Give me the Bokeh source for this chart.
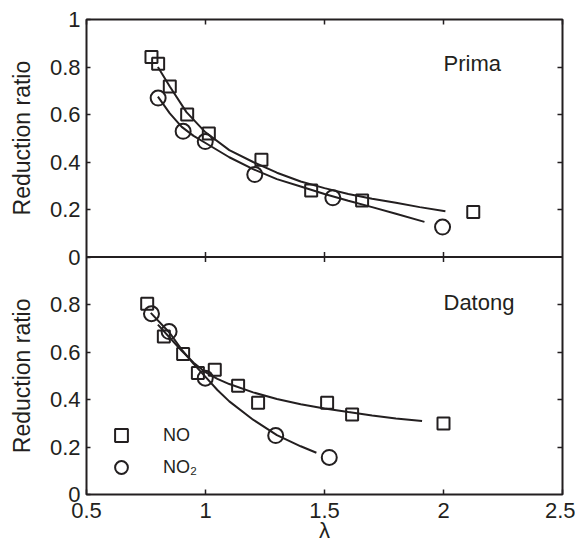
from bokeh.plotting import figure
from bokeh.models import Range1d, LinearAxis, FixedTicker, Legend, LegendItem, Label, Span
from bokeh.embed import file_html
from bokeh.resources import INLINE

INK = "#231f20"
FONT = "Liberation Sans"

# ---------------- data ----------------
# Prima (upper panel)
prima_no_lam = [0.773, 0.801, 0.85, 0.923, 1.014, 1.235, 1.444, 1.658, 2.125]
prima_no_ratio = [0.842, 0.814, 0.718, 0.60, 0.52, 0.41, 0.28, 0.238, 0.189]
prima_no2_lam = [0.801, 0.906, 0.999, 1.207, 1.535, 1.996]
prima_no2_ratio = [0.669, 0.529, 0.486, 0.347, 0.249, 0.126]
prima_no_fit_lam = [0.80, 0.85, 0.92, 1.0, 1.1, 1.2, 1.3, 1.4, 1.5, 1.6, 1.7, 1.8, 1.9, 2.008]
prima_no_fit_ratio = [0.80, 0.718, 0.61, 0.525, 0.45, 0.40, 0.355, 0.318, 0.29, 0.265, 0.245, 0.228, 0.21, 0.193]
prima_no2_fit_lam = [0.80, 0.85, 0.90, 0.95, 1.0, 1.1, 1.2, 1.3, 1.4, 1.5, 1.6, 1.7, 1.8, 1.92]
prima_no2_fit_ratio = [0.675, 0.605, 0.548, 0.51, 0.48, 0.42, 0.37, 0.328, 0.297, 0.265, 0.237, 0.21, 0.182, 0.148]

# Datong (lower panel)
datong_no_lam = [0.755, 0.825, 0.906, 0.968, 1.039, 1.137, 1.221, 1.511, 1.616, 2.0]
datong_no_ratio = [0.803, 0.665, 0.592, 0.512, 0.525, 0.458, 0.386, 0.386, 0.337, 0.299]
datong_no2_lam = [0.773, 0.847, 0.999, 1.295, 1.52]
datong_no2_ratio = [0.761, 0.686, 0.49, 0.248, 0.156]
datong_no_fit_lam = [0.80, 0.85, 0.90, 0.95, 1.0, 1.05, 1.1, 1.2, 1.3, 1.4, 1.5, 1.6, 1.7, 1.8, 1.91]
datong_no_fit_ratio = [0.715, 0.66, 0.605, 0.555, 0.515, 0.487, 0.465, 0.43, 0.402, 0.38, 0.362, 0.347, 0.333, 0.32, 0.309]
datong_no2_fit_lam = [0.77, 0.85, 0.90, 0.95, 1.0, 1.05, 1.1, 1.2, 1.3, 1.4, 1.466]
datong_no2_fit_ratio = [0.765, 0.68, 0.61, 0.55, 0.495, 0.44, 0.392, 0.315, 0.25, 0.203, 0.176]

# ticks
x_ticks = [0.5, 1.0, 1.5, 2.0, 2.5]
x_tick_labels = ["0.5", "1", "1.5", "2", "2.5"]
top_y_ticks = [0, 0.2, 0.4, 0.6, 0.8, 1.0]
top_y_labels = ["0", "0.2", "0.4", "0.6", "0.8", "1"]
bottom_y_ticks = [0, 0.2, 0.4, 0.6, 0.8]
bottom_y_labels = ["0", "0.2", "0.4", "0.6", "0.8"]
inner_y_ticks = [0.2, 0.4, 0.6, 0.8]

y_title = "Reduction ratio"
x_title = "λ"

# Main y range spans both panels: lower panel 0..1, upper panel 1..2.
# Upper panel data use the extra range "prima" (-1..1), so their 0..1 maps onto the upper half.
p = figure(width=575, height=549,
           x_range=Range1d(0.5, 2.5), y_range=Range1d(0, 2),
           output_backend="svg", toolbar_location=None,
           x_axis_location=None, y_axis_location=None,
           min_border_left=86, min_border_right=13, min_border_top=19, min_border_bottom=55)
p.extra_y_ranges = {"prima": Range1d(-1, 1)}
p.grid.visible = False
p.outline_line_color = INK
p.outline_line_width = 2
p.background_fill_color = "white"
p.border_fill_color = "white"


def style_axis(ax, labels=True, tick_in=5):
    ax.major_tick_in = tick_in
    ax.major_tick_out = 0
    ax.minor_tick_in = 0
    ax.minor_tick_out = 0
    ax.major_tick_line_color = INK
    ax.major_tick_line_width = 1.5
    ax.axis_line_color = None
    if labels:
        ax.major_label_text_font = FONT
        ax.major_label_text_font_size = "22px"
        ax.major_label_text_color = INK
    else:
        ax.major_label_text_color = None
        ax.major_label_text_font_size = "1px"
        ax.major_label_standoff = 0


# left axis: lower-panel ticks + upper-panel ticks (upper panel sits at 1 + value on main range)
left_ticks = bottom_y_ticks + [1 + v for v in top_y_ticks]
left_labels = bottom_y_labels + top_y_labels
gap = "\u00a0" * 13
left = LinearAxis(ticker=FixedTicker(ticks=left_ticks),
                  major_label_overrides={t: s for t, s in zip(left_ticks, left_labels)},
                  axis_label=y_title + gap + y_title)
style_axis(left, True, 4)
left.major_label_standoff = 6
left.axis_label_standoff = 12
left.axis_label_text_font = FONT
left.axis_label_text_font_size = "23px"
left.axis_label_text_font_style = "normal"
left.axis_label_text_color = INK
p.add_layout(left, "left")

right_ticks = inner_y_ticks + [1 + v for v in inner_y_ticks]
right = LinearAxis(ticker=FixedTicker(ticks=right_ticks))
style_axis(right, False, 5)
p.add_layout(right, "right")

bottom = LinearAxis(ticker=FixedTicker(ticks=x_ticks),
                    major_label_overrides={t: s for t, s in zip(x_ticks, x_tick_labels)},
                    axis_label=x_title)
style_axis(bottom, True, 5)
bottom.major_label_standoff = 8
bottom.axis_label_standoff = -3
bottom.axis_label_text_font = FONT
bottom.axis_label_text_font_size = "22px"
bottom.axis_label_text_font_style = "normal"
bottom.axis_label_text_color = INK
p.add_layout(bottom, "below")

top = LinearAxis(ticker=FixedTicker(ticks=x_ticks))
style_axis(top, False, 5)
p.add_layout(top, "above")

# divider between the panels and its ticks
p.add_layout(Span(location=1, dimension="width", line_color=INK, line_width=2))
tick_len = 5 / 237.5
mid_ticks = x_ticks[1:-1]
p.segment(x0=mid_ticks, x1=mid_ticks,
          y0=[1 - tick_len] * len(mid_ticks), y1=[1 + tick_len] * len(mid_ticks),
          line_color=INK, line_width=1.5)

# ---------------- upper panel: Prima ----------------
p.line(prima_no_fit_lam, prima_no_fit_ratio, y_range_name="prima", line_color=INK, line_width=2)
p.line(prima_no2_fit_lam, prima_no2_fit_ratio, y_range_name="prima", line_color=INK, line_width=2)
p.scatter(prima_no_lam, prima_no_ratio, y_range_name="prima", marker="square", size=12,
          fill_color=None, line_color=INK, line_width=2)
p.scatter(prima_no2_lam, prima_no2_ratio, y_range_name="prima", marker="circle", size=15,
          fill_color=None, line_color=INK, line_width=2)

# ---------------- lower panel: Datong ----------------
p.line(datong_no_fit_lam, datong_no_fit_ratio, line_color=INK, line_width=2)
p.line(datong_no2_fit_lam, datong_no2_fit_ratio, line_color=INK, line_width=2)
r_no = p.scatter(datong_no_lam, datong_no_ratio, marker="square", size=12,
                 fill_color=None, line_color=INK, line_width=2)
r_no2 = p.scatter(datong_no2_lam, datong_no2_ratio, marker="circle", size=15,
                  fill_color=None, line_color=INK, line_width=2)

# panel names
p.add_layout(Label(x=2.0, y=0.815, y_range_name="prima", text="Prima",
                   text_font=FONT, text_font_size="22px", text_color=INK,
                   text_baseline="alphabetic"))
p.add_layout(Label(x=2.0, y=0.81, text="Datong",
                   text_font=FONT, text_font_size="22px", text_color=INK,
                   text_baseline="alphabetic"))

legend = Legend(items=[LegendItem(label="NO", renderers=[r_no]),
                       LegendItem(label="NO₂", renderers=[r_no2])],
                location=(19, 11), glyph_width=32, glyph_height=32, label_height=32,
                spacing=0, padding=0, margin=0, label_standoff=26,
                border_line_color=None, background_fill_alpha=0,
                label_text_font=FONT, label_text_font_size="18px", label_text_color=INK)
p.add_layout(legend)

open("out.html", "w").write(file_html(p, INLINE))
